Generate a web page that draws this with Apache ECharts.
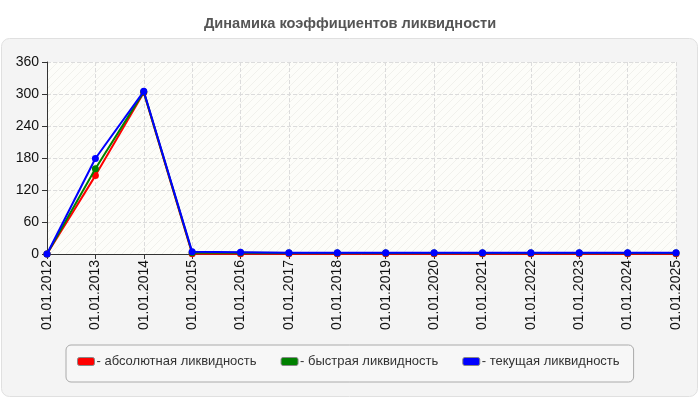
<!DOCTYPE html>
<html><head><meta charset="utf-8">
<script src="https://cdn.jsdelivr.net/npm/echarts@6/dist/echarts.min.js"></script>
<style>html,body{margin:0;padding:0;background:#fff}#c{width:700px;height:400px}</style>
</head><body><div id="c"></div>
<script>
var categories = ['01.01.2012','01.01.2013','01.01.2014','01.01.2015','01.01.2016','01.01.2017','01.01.2018','01.01.2019','01.01.2020','01.01.2021','01.01.2022','01.01.2023','01.01.2024','01.01.2025'];
var absoluteLiq = [0, 147, 303, 0.5, 0.6, 0.5, 0.5, 0.5, 0.5, 0.5, 0.5, 0.5, 0.5, 0.5];
var quickLiq    = [0, 160, 304, 2.5, 2.2, 1.8, 1.8, 1.8, 1.8, 1.8, 1.8, 1.8, 1.8, 1.8];
var currentLiq  = [0, 179, 305, 4, 3.5, 2.5, 2.5, 2.5, 2.5, 2.5, 2.5, 2.5, 2.5, 2.5];
var seriesNames = ['абсолютная ликвидность', 'быстрая ликвидность', 'текущая ликвидность'];
var yTicks = [0, 60, 120, 180, 240, 300, 360];

var pc = document.createElement('canvas');
pc.width = 8; pc.height = 8;
var g = pc.getContext('2d');
g.fillStyle = '#fdfdf9'; g.fillRect(0,0,8,8);
g.strokeStyle = '#f1f1ec'; g.lineWidth = 1;
g.beginPath(); g.moveTo(0,8); g.lineTo(8,0); g.moveTo(-1,1); g.lineTo(1,-1); g.moveTo(7,9); g.lineTo(9,7); g.stroke();

var chart = echarts.init(document.getElementById('c'));
var colors = ['#ff0000', '#008000', '#0000ff'];
var datas = [absoluteLiq, quickLiq, currentLiq];
chart.setOption({
  animation: false,
  textStyle: {fontFamily: 'Liberation Sans, Arial, sans-serif'},
  graphic: [{
    type: 'rect', z: -10, silent: true,
    shape: {x: 1.5, y: 38.5, width: 696, height: 358, r: 8},
    style: {fill: '#f4f4f4', stroke: '#e0e0e0', lineWidth: 1}
  }],
  title: {
    text: 'Динамика коэффициентов ликвидности', left: 'center', top: 11,
    textStyle: {fontSize: 14.6, fontWeight: 'bold', color: '#555', fontFamily: 'Liberation Sans, Arial, sans-serif'}
  },
  grid: {left: 47, right: 24, top: 62, bottom: 146, show: true, borderWidth: 0,
    backgroundColor: {image: pc, repeat: 'repeat'}},
  legend: {
    data: seriesNames, left: 66, top: 345,
    padding: [10, 14, 14, 11], itemGap: 24,
    itemWidth: 17, itemHeight: 8, icon: 'roundRect',
    borderColor: '#aaa', borderWidth: 1, borderRadius: 5, backgroundColor: '#f7f7f7',
    formatter: function(n){ return '- ' + n; },
    itemStyle: {borderColor: '#888', borderWidth: 1},
    textStyle: {fontSize: 13, color: '#333', padding: [0,0,0,-3]}
  },
  xAxis: {
    type: 'category', data: categories, boundaryGap: false,
    axisLine: {lineStyle: {color: '#333', width: 1}},
    axisTick: {show: true, alignWithLabel: true, length: 5, lineStyle: {color: '#333'}},
    axisLabel: {rotate: 90, fontSize: 14, color: '#111', margin: 6, interval: 0},
    splitLine: {show: true, lineStyle: {type: 'dashed', color: '#dcdcdc'}}
  },
  yAxis: {
    type: 'value', min: yTicks[0], max: yTicks[yTicks.length-1], interval: 60,
    axisLine: {show: true, lineStyle: {color: '#333', width: 1}},
    axisTick: {show: true, length: 5, lineStyle: {color: '#333'}},
    axisLabel: {fontSize: 14, color: '#111', margin: 8},
    splitLine: {show: true, lineStyle: {type: 'dashed', color: '#dcdcdc'}}
  },
  series: seriesNames.map(function(n, i){
    return {
      name: n, type: 'line', data: datas[i], symbol: 'circle', symbolSize: 7,
      itemStyle: {color: colors[i]}, lineStyle: {color: colors[i], width: 2}, z: 2 + i
    };
  })
});
</script></body></html>
